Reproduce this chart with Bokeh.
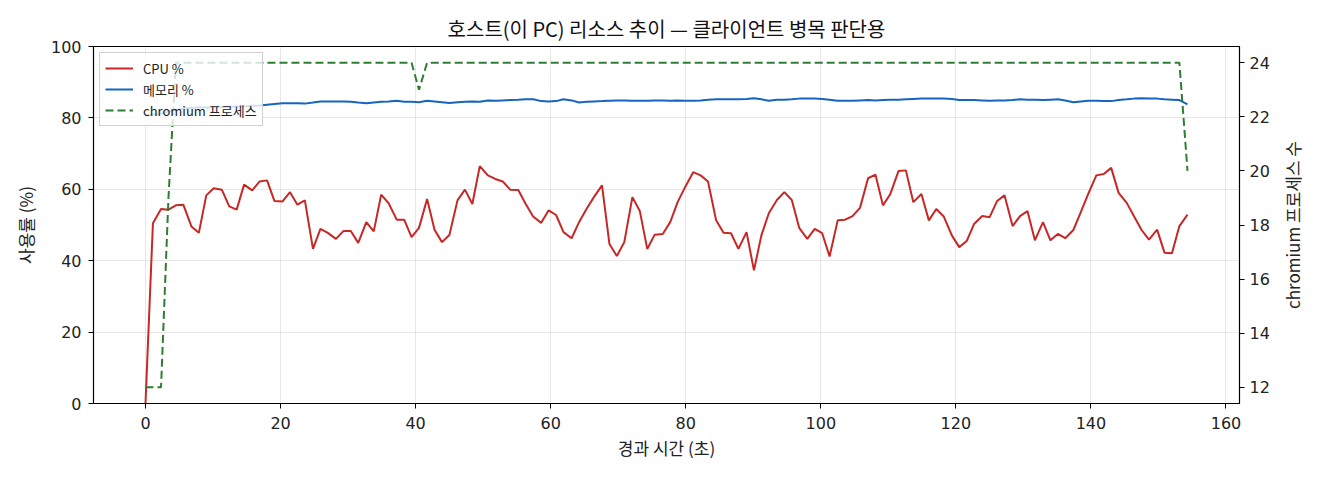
import math

from bokeh.core.properties import value
from bokeh.embed import file_html
from bokeh.layouts import row
from bokeh.models import ColumnDataSource, FixedTicker, Legend, LegendItem, LinearAxis, Range1d
from bokeh.plotting import figure
from bokeh.resources import INLINE

FONT = "Noto Sans CJK KR"
NUM_FONT = "DejaVu Sans"

# elapsed seconds of each sample
elapsed = [
    0.0, 1.1, 2.3, 3.4, 4.5, 5.6, 6.8, 7.9, 9.0, 10.1, 11.3, 12.4, 13.5, 14.6, 15.8, 16.9,
    18.0, 19.1, 20.3, 21.4, 22.5, 23.6, 24.8, 25.9, 27.0, 28.2, 29.3, 30.4, 31.5, 32.7, 33.8,
    34.9, 36.0, 37.2, 38.3, 39.4, 40.5, 41.7, 42.8, 43.9, 45.0, 46.2, 47.3, 48.4, 49.5, 50.7,
    51.8, 52.9, 54.0, 55.2, 56.3, 57.4, 58.6, 59.7, 60.8, 61.9, 63.1, 64.2, 65.3, 66.4, 67.6,
    68.7, 69.8, 70.9, 72.1, 73.2, 74.3, 75.4, 76.6, 77.7, 78.8, 79.9, 81.1, 82.2, 83.3, 84.5,
    85.6, 86.7, 87.8, 89.0, 90.1, 91.2, 92.3, 93.5, 94.6, 95.7, 96.8, 98.0, 99.1, 100.2, 101.3,
    102.5, 103.6, 104.7, 105.8, 107.0, 108.1, 109.2, 110.3, 111.5, 112.6, 113.7, 114.9, 116.0,
    117.1, 118.2, 119.4, 120.5, 121.6, 122.7, 123.9, 125.0, 126.1, 127.2, 128.4, 129.5, 130.6,
    131.7, 132.9, 134.0, 135.1, 136.2, 137.4, 138.5, 139.6, 140.8, 141.9, 143.0, 144.1, 145.3,
    146.4, 147.5, 148.6, 149.8, 150.9, 152.0, 153.1, 154.3,
]

cpu_pct = [
    0.0, 50.5, 54.5, 54.3, 55.5, 55.7, 49.6, 47.8, 58.3, 60.3, 59.9, 55.2, 54.3, 61.3, 59.7,
    62.2, 62.5, 56.7, 56.6, 59.2, 55.7, 56.9, 43.3, 48.9, 47.8, 46.1, 48.3, 48.3, 45.0, 50.8,
    48.2, 58.5, 56.1, 51.5, 51.5, 46.6, 49.2, 57.3, 48.7, 45.2, 47.2, 56.9, 59.9, 55.9, 66.5,
    63.9, 62.9, 62.2, 59.9, 59.8, 55.9, 52.4, 50.6, 54.1, 52.8, 48.0, 46.3, 50.8, 54.5, 57.8,
    61.1, 44.7, 41.3, 45.2, 57.8, 53.9, 43.3, 47.3, 47.5, 50.8, 56.4, 60.6, 64.8, 63.9, 62.2,
    51.3, 47.8, 47.7, 43.3, 48.0, 37.3, 47.1, 53.3, 57.0, 59.2, 57.0, 49.2, 46.1, 48.9, 47.7,
    41.2, 51.3, 51.5, 52.5, 54.8, 63.1, 64.1, 55.5, 58.7, 65.1, 65.3, 56.4, 58.7, 51.3, 54.5,
    52.4, 47.1, 43.8, 45.5, 50.3, 52.5, 52.2, 56.7, 58.3, 49.7, 52.5, 53.9, 45.7, 50.8, 45.7,
    47.5, 46.3, 48.6, 53.6, 58.7, 63.9, 64.3, 66.0, 59.0, 56.2, 52.4, 48.6, 45.9, 48.7, 42.2,
    42.1, 49.7, 52.9,
]

mem_pct = [
    80.6, 80.9, 81.2, 81.8, 82.3, 82.6, 82.8, 82.9, 82.9, 83.0, 83.0, 83.1, 83.2, 83.2, 83.4,
    83.5, 83.7, 83.9, 84.1, 84.1, 84.1, 84.0, 84.3, 84.6, 84.6, 84.6, 84.6, 84.5, 84.3, 84.1,
    84.3, 84.5, 84.6, 84.8, 84.5, 84.5, 84.4, 84.8, 84.6, 84.4, 84.2, 84.4, 84.5, 84.6, 84.5,
    84.9, 84.8, 84.9, 85.0, 85.1, 85.2, 85.2, 84.7, 84.6, 84.7, 85.2, 84.9, 84.3, 84.5, 84.6,
    84.7, 84.8, 84.9, 84.9, 84.8, 84.8, 84.8, 84.9, 84.9, 84.8, 84.9, 84.8, 84.8, 84.9, 85.1,
    85.2, 85.2, 85.2, 85.2, 85.3, 85.5, 85.2, 84.8, 85.1, 85.1, 85.2, 85.4, 85.4, 85.4, 85.3,
    85.1, 84.8, 84.8, 84.8, 84.9, 85.0, 84.9, 85.0, 85.1, 85.1, 85.2, 85.3, 85.4, 85.4, 85.4,
    85.4, 85.3, 85.0, 85.0, 85.0, 84.9, 84.8, 84.9, 84.9, 85.0, 85.2, 85.1, 85.1, 85.0, 85.1,
    85.2, 84.9, 84.4, 84.6, 84.8, 84.8, 84.7, 84.7, 85.0, 85.2, 85.4, 85.5, 85.4, 85.4, 85.2,
    85.1, 85.0, 83.8,
]

chromium_procs = [12, 12, 12, 19] + [24] * 32 + [23] + [24] * 100 + [20]

title = "호스트(이 PC) 리소스 추이 — 클라이언트 병목 판단용"
x_label = "경과 시간 (초)"
y_label = "사용률 (%)"
y2_label = "chromium 프로세스 수"

src = ColumnDataSource(data=dict(t=elapsed, cpu=cpu_pct, mem=mem_pct, proc=chromium_procs))
proc_range = Range1d(11.4, 24.6)

p = figure(
    width=1272, height=470,
    x_range=Range1d(-7.7, 162.0),
    y_range=Range1d(0, 100),
    title=title,
    output_backend="svg",
    toolbar_location=None,
    min_border_left=93, min_border_right=33,
    min_border_top=46, min_border_bottom=67,
)
p.extra_y_ranges = {"proc": proc_range}

p.title.align = "center"
p.title.text_font = FONT
p.title.text_font_size = "20px"
p.title.text_font_style = "normal"
p.title.text_color = "#111111"
p.title.standoff = 7

p.outline_line_color = "black"
p.outline_line_width = 1.2
p.grid.grid_line_color = "#b0b0b0"
p.grid.grid_line_alpha = 0.3
p.xaxis.ticker = FixedTicker(ticks=[0, 20, 40, 60, 80, 100, 120, 140, 160])
p.yaxis.ticker = FixedTicker(ticks=[0, 20, 40, 60, 80, 100])

r_cpu = p.line("t", "cpu", source=src, line_color="#c62828", line_width=2)
r_mem = p.line("t", "mem", source=src, line_color="#1565c0", line_width=2)
r_proc = p.line("t", "proc", source=src, y_range_name="proc",
                line_color="#2e7d32", line_width=2, line_dash="8 4")

right = LinearAxis(y_range_name="proc",
                   ticker=FixedTicker(ticks=[12, 14, 16, 18, 20, 22, 24]))
p.add_layout(right, "right")

p.xaxis.axis_label = x_label
p.yaxis[0].axis_label = y_label

for ax in p.xaxis + p.yaxis:
    ax.axis_label_text_font = FONT
    ax.axis_label_text_font_size = "17px"
    ax.axis_label_text_font_style = "normal"
    ax.axis_label_text_color = "#222222"
    ax.major_label_text_font = NUM_FONT
    ax.major_label_text_font_size = "16px"
    ax.major_label_text_color = "#222222"
    ax.minor_tick_line_color = None
    ax.major_tick_out = 5
    ax.major_tick_in = 0
    ax.axis_line_color = "black"
    ax.major_tick_line_color = "black"

p.xaxis.major_label_standoff = 8
p.xaxis.axis_label_standoff = 3
p.yaxis[0].major_label_standoff = 7
p.yaxis[0].axis_label_standoff = 10
right.major_label_standoff = 5

legend = Legend(items=[
    LegendItem(label="CPU %", renderers=[r_cpu]),
    LegendItem(label="메모리 %", renderers=[r_mem]),
    LegendItem(label="chromium 프로세스", renderers=[r_proc]),
], location="top_left")
legend.margin = 6
legend.padding = 5
legend.spacing = 1
legend.glyph_width = 28
legend.glyph_height = 20
legend.label_height = 20
legend.label_standoff = 10
legend.label_text_font = FONT
legend.label_text_font_size = "13px"
legend.label_text_color = "#222222"
legend.background_fill_alpha = 0.8
legend.border_line_color = "#cccccc"
legend.border_line_alpha = 0.9
p.add_layout(legend)

# narrow strip holding the right axis title, read bottom-to-top
side = figure(
    width=40, height=470,
    x_range=Range1d(0, 1), y_range=proc_range,
    output_backend="svg", toolbar_location=None,
    x_axis_location=None, y_axis_location=None,
    min_border_left=0, min_border_right=0,
    min_border_top=46, min_border_bottom=67,
)
side.outline_line_color = None
side.grid.visible = False
side.text(x=[0.5], y=[18], text=[y2_label], angle=math.pi / 2,
          text_align="center", text_baseline="middle",
          text_font=value(FONT), text_font_size="17px", text_color="#222222")

layout = row(p, side)

open("out.html", "w").write(file_html(layout, INLINE))
